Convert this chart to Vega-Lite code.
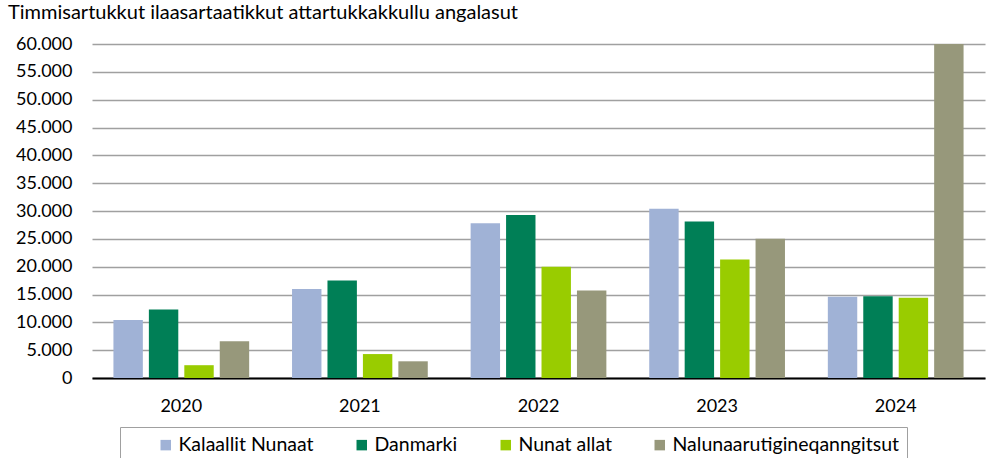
{
  "$schema": "https://vega.github.io/schema/vega-lite/v6.json",
  "width": 893,
  "height": 334,
  "autosize": "none",
  "padding": {"left": 92, "top": 44, "right": 8, "bottom": 80},
  "background": "white",
  "config": {
    "locale": {"number": {"decimal": ",", "thousands": ".", "grouping": [3], "currency": ["", ""]}},
    "view": {"stroke": null},
    "font": "Lato"
  },
  "title": {
    "text": "Timmisartukkut ilaasartaatikkut attartukkakkullu angalasut",
    "anchor": "start",
    "frame": "group",
    "dx": -84,
    "offset": 12,
    "fontSize": 20,
    "fontWeight": "normal",
    "color": "#000000",
    "font": "Lato"
  },
  "data": {
    "values": [
      {"year": "2020", "series": "Kalaallit Nunaat", "value": 10400},
      {"year": "2020", "series": "Danmarki", "value": 12300},
      {"year": "2020", "series": "Nunat allat", "value": 2300},
      {"year": "2020", "series": "Nalunaarutigineqanngitsut", "value": 6600},
      {"year": "2021", "series": "Kalaallit Nunaat", "value": 16000},
      {"year": "2021", "series": "Danmarki", "value": 17500},
      {"year": "2021", "series": "Nunat allat", "value": 4300},
      {"year": "2021", "series": "Nalunaarutigineqanngitsut", "value": 3000},
      {"year": "2022", "series": "Kalaallit Nunaat", "value": 27800},
      {"year": "2022", "series": "Danmarki", "value": 29300},
      {"year": "2022", "series": "Nunat allat", "value": 20000},
      {"year": "2022", "series": "Nalunaarutigineqanngitsut", "value": 15700},
      {"year": "2023", "series": "Kalaallit Nunaat", "value": 30400},
      {"year": "2023", "series": "Danmarki", "value": 28100},
      {"year": "2023", "series": "Nunat allat", "value": 21300},
      {"year": "2023", "series": "Nalunaarutigineqanngitsut", "value": 25000},
      {"year": "2024", "series": "Kalaallit Nunaat", "value": 14600},
      {"year": "2024", "series": "Danmarki", "value": 14700},
      {"year": "2024", "series": "Nunat allat", "value": 14400},
      {"year": "2024", "series": "Nalunaarutigineqanngitsut", "value": 60000}
    ]
  },
  "mark": {"type": "bar", "clip": true},
  "encoding": {
    "x": {
      "field": "year",
      "type": "nominal",
      "scale": {"paddingInner": 0.24, "paddingOuter": 0.12},
      "axis": {
        "title": null,
        "labelAngle": 0,
        "labelFontSize": 18,
        "labelColor": "#000000",
        "labelPadding": 19,
        "ticks": false,
        "domainColor": "#000000",
        "domainWidth": 2,
        "labelFont": "Lato"
      }
    },
    "xOffset": {
      "field": "series",
      "sort": ["Kalaallit Nunaat", "Danmarki", "Nunat allat", "Nalunaarutigineqanngitsut"],
      "scale": {"paddingInner": 0.17, "paddingOuter": 0}
    },
    "y": {
      "field": "value",
      "type": "quantitative",
      "scale": {"domain": [0, 60000], "nice": false},
      "axis": {
        "title": null,
        "values": [0, 5000, 10000, 15000, 20000, 25000, 30000, 35000, 40000, 45000, 50000, 55000, 60000],
        "format": ",d",
        "labelFontSize": 18,
        "labelColor": "#000000",
        "labelPadding": 20,
        "ticks": false,
        "domain": false,
        "gridColor": "#A0A0A0",
        "gridWidth": 1.5,
        "labelFont": "Lato"
      }
    },
    "color": {
      "field": "series",
      "type": "nominal",
      "sort": ["Kalaallit Nunaat", "Danmarki", "Nunat allat", "Nalunaarutigineqanngitsut"],
      "scale": {
        "domain": ["Kalaallit Nunaat", "Danmarki", "Nunat allat", "Nalunaarutigineqanngitsut"],
        "range": ["#A0B2D6", "#007F56", "#99CC00", "#97987B"]
      },
      "legend": {
        "title": " ",
        "titleOrient": "left",
        "titlePadding": 28,
        "orient": "none",
        "legendX": 28,
        "legendY": 383,
        "direction": "horizontal",
        "symbolType": "square",
        "symbolSize": 110,
        "symbolStrokeWidth": 0,
        "labelFontSize": 19.5,
        "labelColor": "#000000",
        "labelFont": "Lato",
        "labelOffset": 3,
        "columnPadding": 38,
        "strokeColor": "#A0A0A0",
        "padding": 8,
        "offset": 0,
        "labelLimit": 400
      }
    }
  }
}
